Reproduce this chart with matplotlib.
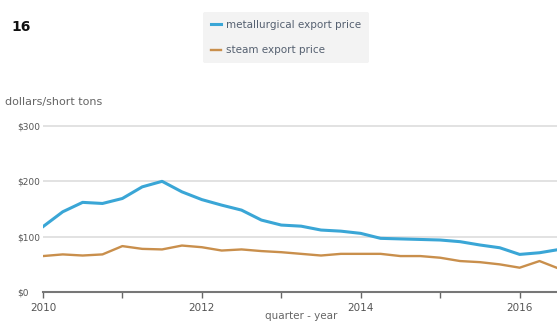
import matplotlib.pyplot as plt
import numpy as np

plt.rcParams['font.family'] = ['DejaVu Sans']

# quarterly, 2010Q1 .. 2016Q3
quarters = 2010 + np.arange(27) * 0.25
metallurgical = [118, 145, 162, 160, 169, 190, 200, 181, 167, 157, 148, 130, 121,
                 119, 112, 110, 106, 97, 96, 95, 94, 91, 85, 80, 68, 71, 77]
steam = [65, 68, 66, 68, 83, 78, 77, 84, 81, 75, 77, 74, 72,
         69, 66, 69, 69, 69, 65, 65, 62, 56, 54, 50, 44, 56, 42]
year_ticks = [2010, 2011, 2012, 2013, 2014, 2015, 2016]
year_labels = ['2010', '', '2012', '', '2014', '', '2016']
y_ticks = [0, 100, 200, 300]
y_labels = ['$0', '$100', '$200', '$300']

fig = plt.figure(figsize=(5.57, 3.22), dpi=100)
ax = fig.add_axes([0.077, 0.093, 0.923, 0.533])

ax.plot(quarters, metallurgical, color='#3aa6d6', lw=2.2, label='metallurgical export price')
ax.plot(quarters, steam, color='#c98f4c', lw=1.7, label='steam export price')

ax.set_xlim(2010, 2016.47)
ax.set_ylim(0, 310)
ax.set_yticks(y_ticks)
ax.set_yticklabels(y_labels)
ax.set_xticks(year_ticks)
ax.set_xticklabels(year_labels)
ax.grid(axis='y', color='#dddddd', lw=1.2)
ax.set_axisbelow(True)
for s in ['top', 'right', 'left']:
    ax.spines[s].set_visible(False)
ax.spines['bottom'].set_color('#777777')
ax.spines['bottom'].set_linewidth(1.5)
ax.tick_params(axis='y', length=0, labelsize=6.5, labelcolor='#555555')
ax.tick_params(axis='x', length=4, width=1, color='#666666', labelsize=7.5,
               labelcolor='#555555', pad=4)
for lbl in ax.get_yticklabels():
    lbl.set_horizontalalignment('left')
    lbl.set_x(-0.041)

fig.text(0.009, 0.675, 'dollars/short tons', fontsize=8, color='#666666')
fig.text(0.54, 0.01, 'quarter - year', fontsize=7.5, color='#666666', ha='center')
fig.text(0.02, 0.905, '16', fontsize=10, fontweight='bold', color='#111111')

leg = fig.legend(loc='upper left', bbox_to_anchor=(0.355, 0.978), frameon=True,
                 fontsize=7.5, handlelength=1.0, labelspacing=1.45, borderpad=0.75,
                 handletextpad=0.5)
leg.get_frame().set_facecolor('#f0f0f0')
leg.get_frame().set_edgecolor('none')
for t in leg.get_texts():
    t.set_color('#556070')

fig.savefig('out.png', dpi=100)
